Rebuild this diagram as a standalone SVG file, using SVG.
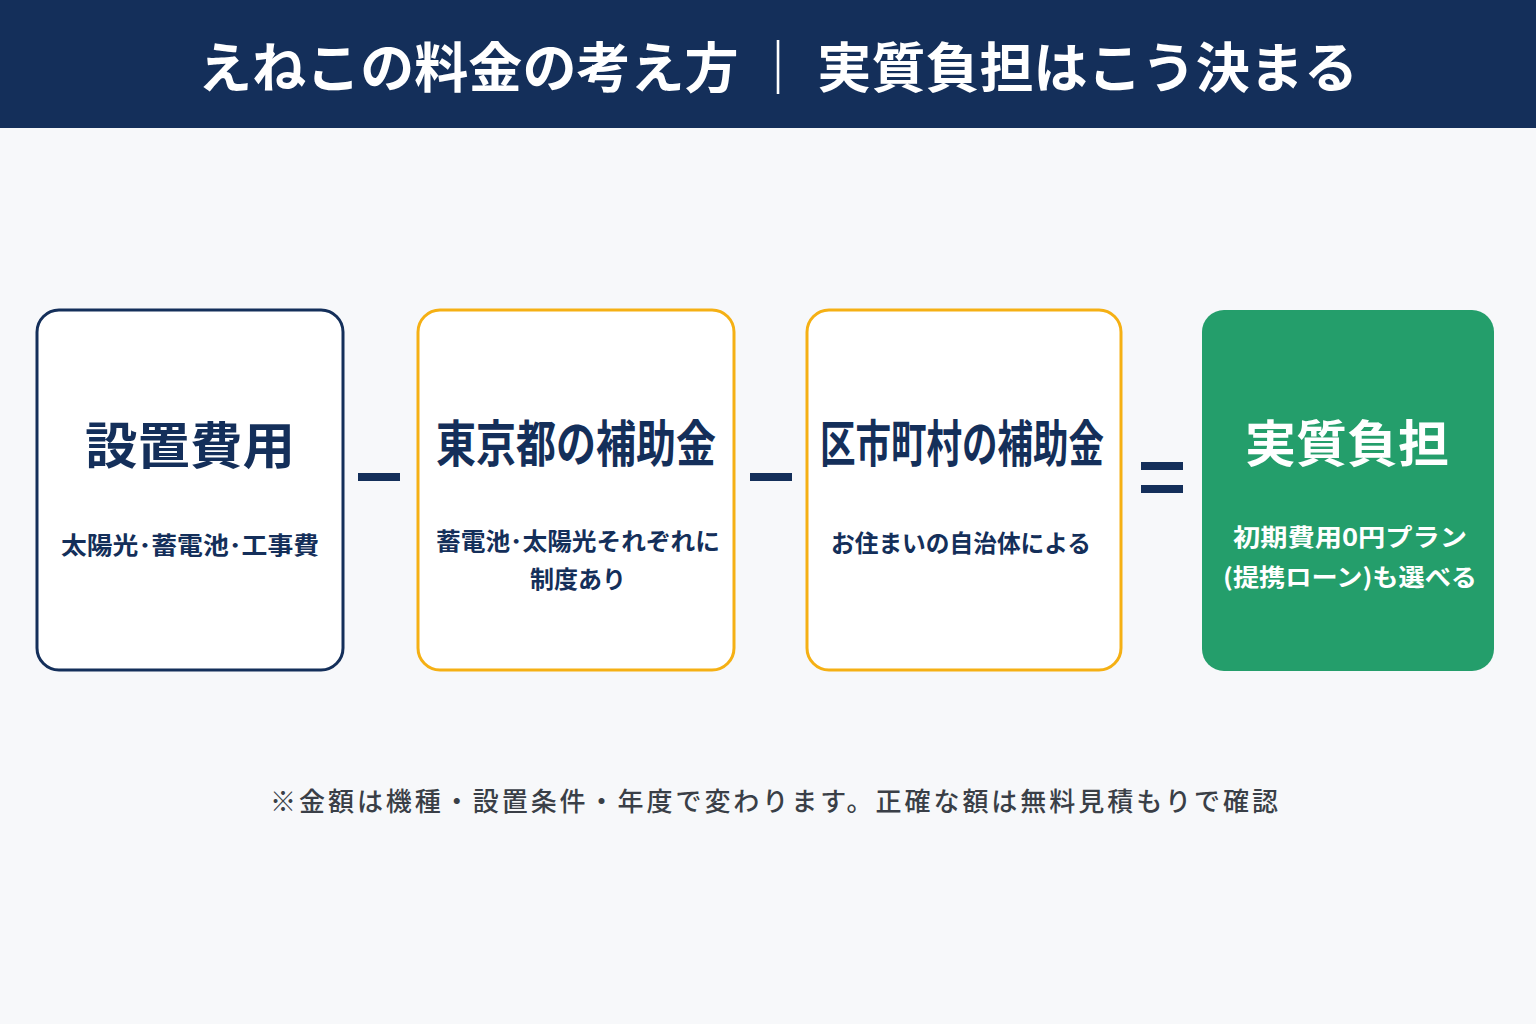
<svg xmlns="http://www.w3.org/2000/svg" width="1536" height="1024" viewBox="0 0 1536 1024">
<style>
text{font-family:"Noto Sans CJK JP","Noto Sans",sans-serif;font-weight:700;text-anchor:middle}
.t{font-size:50px;fill:#142f5a}
.s{font-size:24px;fill:#142f5a}
.w{fill:#fff}
.box{fill:#fff;stroke-width:3}
.op{fill:#142f5a}
</style>
<rect width="1536" height="1024" fill="#f7f8fa"/>
<rect width="1536" height="128" fill="#142f5a"/>
<text x="778" y="88" font-size="54" fill="#fff" textLength="1160" lengthAdjust="spacingAndGlyphs">えねこの料金の考え方 ｜ 実質負担はこう決まる</text>
<g id="n1"><rect class="box" x="37" y="310" width="306" height="360" rx="22" stroke="#142f5a"/>
<text class="t" x="190" y="464" textLength="210" lengthAdjust="spacingAndGlyphs">設置費用</text><text class="s" x="190" y="554" textLength="258" lengthAdjust="spacingAndGlyphs">太陽光･蓄電池･工事費</text></g>
<g id="n2"><rect class="box" x="418" y="310" width="316" height="360" rx="22" stroke="#f5b014"/>
<text class="t" x="576" y="462" textLength="280" lengthAdjust="spacingAndGlyphs">東京都の補助金</text><text class="s" x="578" y="550" textLength="284" lengthAdjust="spacingAndGlyphs">蓄電池･太陽光それぞれに</text><text class="s" x="578" y="588">制度あり</text></g>
<g id="n3"><rect class="box" x="807" y="310" width="314" height="360" rx="22" stroke="#f5b014"/>
<text class="t" x="962" y="462" textLength="284" lengthAdjust="spacingAndGlyphs">区市町村の補助金</text><text class="s" x="961" y="552" textLength="260" lengthAdjust="spacingAndGlyphs">お住まいの自治体による</text></g>
<g id="n4"><rect x="1202" y="310" width="292" height="361" rx="22" fill="#249e6b"/>
<text class="t w" x="1347" y="462" textLength="204" lengthAdjust="spacingAndGlyphs">実質負担</text>
<text class="s w" x="1350" y="546" textLength="234" lengthAdjust="spacingAndGlyphs">初期費用0円プラン</text><text class="s w" x="1350" y="586" textLength="254" lengthAdjust="spacingAndGlyphs">(提携ローン)も選べる</text></g>
<g id="connectors">
<rect class="op" x="358" y="473" width="42" height="8"/>
<rect class="op" x="750" y="473" width="42" height="8"/>
<rect class="op" x="1141" y="462" width="42" height="8"/>
<rect class="op" x="1141" y="485" width="42" height="8"/>
</g>
<text x="774" y="811" font-size="26" fill="#3a3f47" style="font-weight:500" textLength="1008" lengthAdjust="spacing">※金額は機種・設置条件・年度で変わります。正確な額は無料見積もりで確認</text>
</svg>
